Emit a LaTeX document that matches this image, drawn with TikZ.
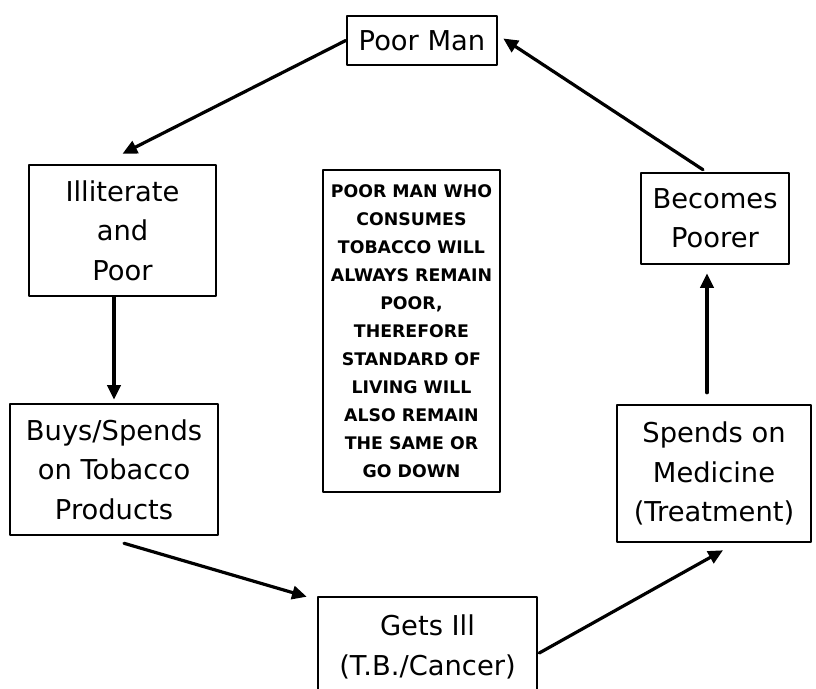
\documentclass[tikz,border=0pt]{standalone}
\usepackage{fontspec}
\setmainfont{DejaVu Sans}
\usepackage{tikz}
\usetikzlibrary{arrows.meta,calc}

\begin{document}
\begin{tikzpicture}[line cap=round,line join=round,x=0.75pt,y=-0.75pt,
    box/.style={draw,line width=1.9pt,align=center,inner sep=0pt,
      font=\fontsize{20.5}{29.5}\selectfont},
    link/.style={line width=2.4pt,-{Triangle[length=11pt,width=10pt]}}]
          \useasboundingbox (0,0) rectangle (816,688);

          \node[box,minimum width=112.5pt,minimum height=36.75pt] (poor) at (422,40.5) {Poor Man};
          \node[box,minimum width=140.25pt,minimum height=98.25pt] (illit) at (122.5,230.5) {Illiterate\\and\\Poor};
          \node[box,minimum width=156pt,minimum height=98.25pt] (buys) at (114,469.5) {Buys/Spends\\on Tobacco\\Products};
          \node[box,minimum width=164.25pt,minimum height=75pt] (gets) at (427.5,647) {Gets Ill\\(T.B./Cancer)};
          \node[box,minimum width=145.5pt,minimum height=102.75pt] (spends) at (714,473.5) {Spends on\\Medicine\\(Treatment)};
          \node[box,minimum width=111pt,minimum height=68.25pt] (becomes) at (715,218.5) {Becomes\\Poorer};

          \node[box,minimum width=132.75pt,minimum height=241.5pt,
            font=\fontsize{13}{21}\selectfont\bfseries] (msg) at (411.5,331)
            {POOR MAN WHO\\CONSUMES\\TOBACCO WILL\\ALWAYS REMAIN\\POOR,\\THEREFORE\\STANDARD OF\\LIVING WILL\\ALSO REMAIN\\THE SAME OR\\GO DOWN};

          \draw[link] (poor.west) -- ($(illit.north)+(0,-10)$);
          \draw[link] (buys.north |- illit.south) -- ($(buys.north)+(0,-3)$);
          \draw[link] ($(buys.south)+(10,7)$) -- ($(gets.north west)+(-10,1)$);
          \draw[link] ($(gets.east)+(1,6)$) -- ($(spends.south)+(9,7)$);
          \draw[link] ($(spends.north)+(-7,-11)$) -- ($(becomes.south)+(-8,8)$);
          \draw[link] ($(becomes.north)+(-12,-2)$) -- ($(poor.east)+(5,-2)$);

        \end{tikzpicture}
\end{document}
